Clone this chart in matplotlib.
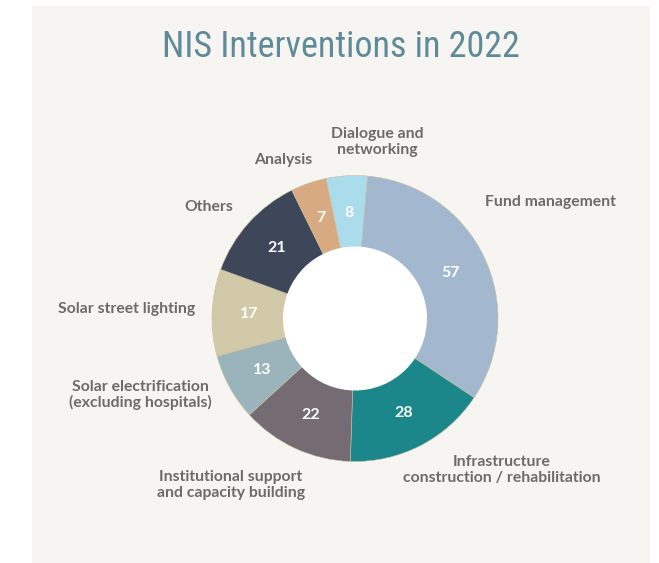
import numpy as np
import matplotlib
matplotlib.use("Agg")
import matplotlib.pyplot as plt
from matplotlib.patches import Rectangle, Circle
from matplotlib import font_manager

# data, clockwise from the top
categories = ["Fund management",
              "Infrastructure\nconstruction / rehabilitation",
              "Institutional support\nand capacity building",
              "Solar electrification\n(excluding hospitals)",
              "Solar street lighting",
              "Others",
              "Analysis",
              "Dialogue and\nnetworking"]
values = [57, 28, 22, 13, 17, 21, 7, 8]
colors = ["#a3b8cf", "#1b878b", "#746c72", "#9bb3ba",
          "#d2c9a8", "#3d4759", "#d8aa82", "#aadcec"]

# label anchor positions (pixels, from top-left) and alignment
label_pos = [(485, 202, "left"), (502, 470, "center"), (231, 485, "center"),
             (140, 395, "center"), (195, 309, "right"), (233, 207, "right"),
             (283, 160, "center"), (377, 142, "center")]

names = {f.name for f in font_manager.fontManager.ttflist}
title_fams = [n for n in ["Roboto Condensed", "Archivo Narrow", "PT Sans Narrow",
                          "Liberation Sans Narrow", "Roboto"] if n in names]

W, H = 659, 563
fig = plt.figure(figsize=(W / 100, H / 100), dpi=100)
fig.patch.set_facecolor("white")
ax = fig.add_axes([0, 0, 1, 1])

cx, cy, R, r_in = 355, 318.5, 143, 72
total = sum(values)
ax.pie(values, colors=colors, startangle=85, counterclock=False,
       center=(cx, H - cy), radius=R,
       wedgeprops=dict(linewidth=0.4, edgecolor="#c8c0a0"),
       autopct=lambda p: f"{round(p * total / 100)}", pctdistance=0.74,
       textprops=dict(color="white", fontsize=11.5, fontweight="bold",
                      family=["Lato", "DejaVu Sans"]))

ax.add_patch(Circle((cx, H - cy), r_in, facecolor="white", edgecolor="none", zorder=5))
ax.add_patch(Rectangle((32, 0), 650 - 32, H - 6, facecolor="#f6f5f2",
                       edgecolor="none", zorder=-10))

for lab, (x, y, ha) in zip(categories, label_pos):
    ax.text(x, H - y, lab, ha=ha, va="center", color="#6b6b6b",
            fontsize=11.3, fontweight="bold", family=["Lato", "DejaVu Sans"],
            linespacing=1.1)

ax.text(341, H - 47, "NIS Interventions in 2022", ha="center", va="center",
        color="#5f8b99", fontsize=26,
        family=title_fams[:1] + ["DejaVu Sans"])

ax.set_xlim(0, W)
ax.set_ylim(0, H)
ax.set_aspect("equal")
ax.axis("off")

fig.savefig("out.png", dpi=100, facecolor="white")
